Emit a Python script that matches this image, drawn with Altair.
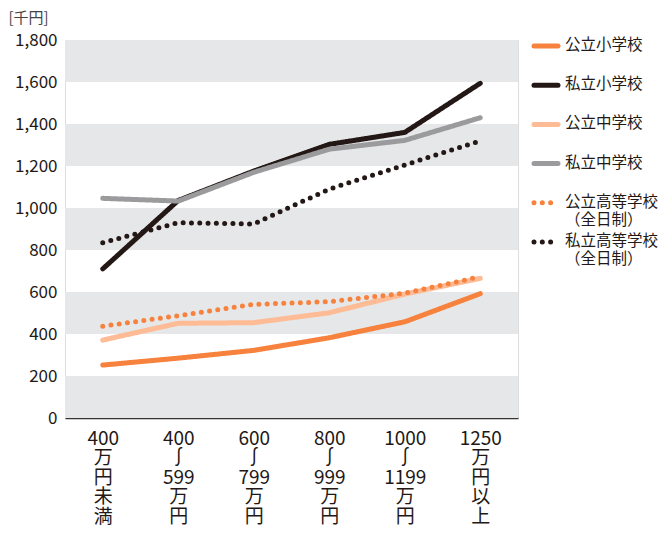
import altair as alt
import pandas as pd

# ---- data ----
categories = ["400|万|円|未|満", "400|∫|599|万|円", "600|∫|799|万|円",
              "800|∫|999|万|円", "1000|∫|1199|万|円", "1250|万|円|以|上"]
series = ["公立小学校", "私立小学校", "公立中学校", "私立中学校",
          "公立高等学校|（全日制）", "私立高等学校|（全日制）"]
public_elem = [252, 285, 322, 382, 458, 592]
private_elem = [710, 1036, 1176, 1303, 1360, 1594]
public_mid = [371, 451, 454, 501, 590, 665]
private_mid = [1046, 1033, 1170, 1280, 1322, 1430]
public_high = [437, 487, 541, 554, 594, 673]
private_high = [835, 930, 924, 1090, 1205, 1319]
band_starts = [0, 400, 800, 1200, 1600]
band_size = 200
y_ticks = [0, 200, 400, 600, 800, 1000, 1200, 1400, 1600, 1800]

values = [public_elem, private_elem, public_mid, private_mid, public_high, private_high]
colors = ["#f7823e", "#231815", "#fdbc96", "#9b9b9d", "#f7823e", "#231815"]
dashes = [[1, 0], [1, 0], [1, 0], [1, 0], [0, 8.3], [0, 8.3]]
draw_order = [5, 4, 3, 2, 0, 1]  # higher drawn later

rows = []
for i, (s, vals) in enumerate(zip(series, values)):
    for c, v in zip(categories, vals):
        rows.append({"series": s, "cat": c, "value": v, "order": draw_order[i]})
df = pd.DataFrame(rows)
legend_df = pd.DataFrame({"series": series})
bands = pd.DataFrame({"y0": band_starts, "y1": [b + band_size for b in band_starts]})

FONT = "Noto Sans CJK JP"
TXT = "#231815"

yaxis = alt.Axis(values=y_ticks, format=",d", domain=False, ticks=False, grid=False,
                 labelFontSize=17, labelColor=TXT, labelFont=FONT, labelPadding=8,
                 title="[千円]", titleAngle=0, titleAlign="left", titleBaseline="top",
                 titleX=-57, titleY=-30, titleFontSize=15, titleFontWeight="normal",
                 titleColor="#444444", titleFont=FONT)
yscale = alt.Scale(domain=[0, 1800], nice=False)
xscale = alt.Scale(type="point", padding=0.5, domain=categories)
color_scale = alt.Scale(domain=series, range=colors)
dash_scale = alt.Scale(domain=series, range=dashes)

band_layer = alt.Chart(bands).mark_rect(color="#e6e7e8").encode(
    y=alt.Y("y0:Q", scale=yscale, axis=yaxis),
    y2="y1:Q",
    x=alt.value(0),
    x2=alt.value(453),
)

lines = alt.Chart(df).mark_line(strokeWidth=5, strokeCap="round", strokeJoin="round").encode(
    x=alt.X("cat:N", scale=xscale, sort=categories,
            axis=alt.Axis(title=None, ticks=False, grid=False, labelAngle=0,
                          labelExpr="split(datum.label, '|')",
                          labelFontSize=19, labelLineHeight=19.5, labelColor=TXT, labelFont=FONT,
                          labelPadding=11, labelBaseline="top",
                          domainColor="#333333", domainWidth=1.5)),
    y=alt.Y("value:Q", scale=yscale, axis=yaxis),
    color=alt.Color("series:N", scale=color_scale, legend=None),
    strokeDash=alt.StrokeDash("series:N", scale=dash_scale, legend=None),
    order=alt.Order("order:Q"),
    detail="series:N",
)

leg_y = alt.Y("series:N", sort=series, axis=None,
              scale=alt.Scale(type="point", domain=series, range=[6, 202], padding=0))

legend_sym = alt.Chart(legend_df).mark_rule(strokeWidth=5, strokeCap="round").encode(
    y=leg_y,
    x=alt.value(469), x2=alt.value(493),
    color=alt.Color("series:N", scale=color_scale, legend=None),
    strokeDash=alt.StrokeDash("series:N", scale=dash_scale, legend=None),
)

legend_txt = alt.Chart(legend_df).mark_text(
    align="left", baseline="line-top", lineBreak="|", lineHeight=18, dy=-9,
    fontSize=15.5, font=FONT, color=TXT,
).encode(
    y=leg_y,
    x=alt.value(500),
    text="series:N",
)

plot = alt.layer(band_layer, lines)
legend = alt.layer(legend_sym, legend_txt)

chart = alt.layer(plot, legend).resolve_scale(
    y="independent"
).properties(
    width=453, height=378,
    autosize=alt.AutoSizeParams(type="none"),
    padding={"left": 65, "top": 40, "right": 141, "bottom": 115},
).configure_view(strokeWidth=0, stroke="transparent").configure(font=FONT)

chart.save("out.html", embed_options={"renderer": "svg", "actions": False})
